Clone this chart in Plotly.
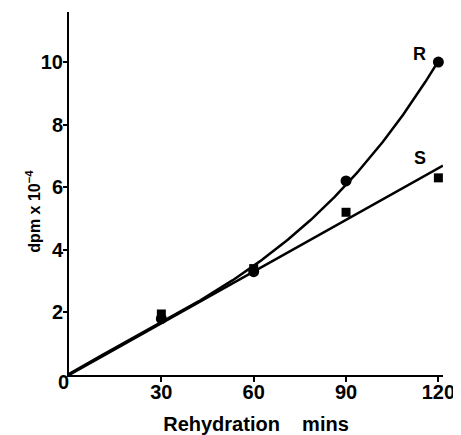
import numpy as np
import plotly.graph_objects as go

# Data
time_min = [30, 60, 90, 120]
r_values = [1.8, 3.3, 6.2, 10.0]
s_values = [1.95, 3.4, 5.2, 6.3]
x_ticks = [30, 60, 90, 120]
y_ticks = [2, 4, 6, 8, 10]

FONT = "Liberation Sans"

# Smooth curve for R: cubic fit through origin + data points
xr = np.array([0] + time_min, dtype=float)
yr = np.array([0] + r_values, dtype=float)
coef_r = np.polyfit(xr, yr, 3)
xc = np.linspace(0, 120, 200)
yc = np.polyval(coef_r, xc)

# Straight line for S: least-squares fit through origin
xs = np.array(time_min, dtype=float)
ys = np.array(s_values, dtype=float)
slope_s = float((xs * ys).sum() / (xs * xs).sum())
xl = np.array([0, 121.5])
yl = slope_s * xl

fig = go.Figure()
fig.add_trace(go.Scatter(x=xc, y=yc, mode="lines",
                         line=dict(color="black", width=2.5), cliponaxis=False))
fig.add_trace(go.Scatter(x=xl, y=yl, mode="lines",
                         line=dict(color="black", width=2.5), cliponaxis=False))
fig.add_trace(go.Scatter(x=time_min, y=s_values, mode="markers",
                         marker=dict(symbol="square", size=9, color="black"), cliponaxis=False))
fig.add_trace(go.Scatter(x=time_min, y=r_values, mode="markers",
                         marker=dict(symbol="circle", size=11, color="black"), cliponaxis=False))

fig.add_annotation(x=114, y=10.25, text="R", showarrow=False,
                   font=dict(family=FONT, size=18, color="black", weight="bold"))
fig.add_annotation(x=114, y=6.95, text="S", showarrow=False,
                   font=dict(family=FONT, size=18, color="black", weight="bold"))
fig.add_annotation(x=0, y=0, text="0", showarrow=False, xshift=-6, yshift=-7,
                   font=dict(family=FONT, size=20, color="black", weight="bold"))
fig.add_annotation(xref="paper", yref="paper", x=0, y=0.45, xshift=-48,
                   text="dpm x 10<sup>−4</sup>", textangle=-90, showarrow=False,
                   font=dict(family=FONT, size=16, color="black", weight="bold"))

# The page body adds an 8px offset, so the figure is sized to fit after it
fig.update_layout(
    width=453, height=427,
    margin=dict(l=61, r=18, t=4, b=60, autoexpand=False),
    paper_bgcolor="white", plot_bgcolor="white",
    showlegend=False,
    font=dict(family=FONT, color="black"),
    xaxis=dict(range=[0, 121.5], tickvals=x_ticks, ticktext=[str(v) for v in x_ticks],
               automargin=False,
               showline=True, linecolor="black", linewidth=2,
               ticks="outside", ticklen=5, tickwidth=1.5, tickcolor="black",
               ticklabelstandoff=-7,
               showgrid=False, zeroline=False,
               tickfont=dict(family=FONT, size=20, color="black", weight="bold"),
               title=dict(text="Rehydration    mins", standoff=15,
                          font=dict(family=FONT, size=20, color="black", weight="bold"))),
    yaxis=dict(range=[0, 11.6], tickvals=y_ticks, ticktext=[str(v) for v in y_ticks],
               automargin=False,
               showline=True, linecolor="black", linewidth=2,
               ticks="outside", ticklen=4, tickwidth=1.5, tickcolor="black",
               ticklabelstandoff=-4,
               showgrid=False, zeroline=False,
               tickfont=dict(family=FONT, size=20, color="black", weight="bold")),
)

fig.write_html("out.html")
